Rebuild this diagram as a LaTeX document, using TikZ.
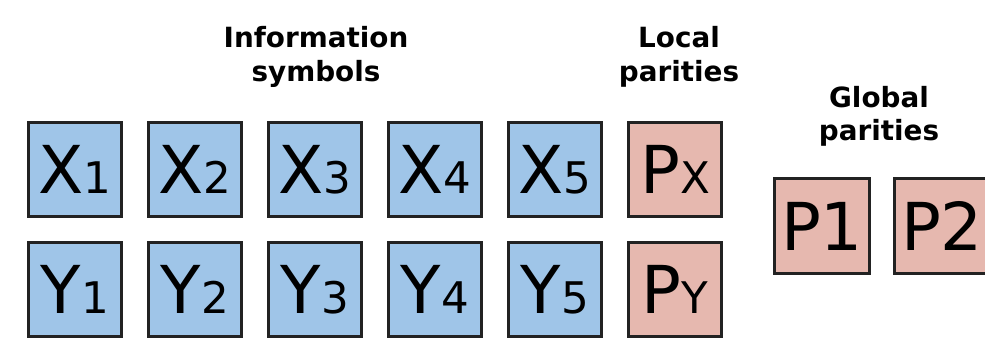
\documentclass[tikz,border=0pt]{standalone}
\usepackage{fontspec}
\setmainfont{DejaVu Sans}
\usepackage{tikz}
\usepackage{xcolor}
\definecolor{infoblue}{HTML}{9FC5E8}
\definecolor{paritypink}{HTML}{E6B8AF}
\definecolor{boxline}{HTML}{222222}
\newcommand{\bigsym}{\fontsize{47}{56}\selectfont}
\newcommand{\smallsym}{\fontsize{31}{38}\selectfont}
\tikzset{
  symbox/.style={draw=boxline, line width=2.2pt, minimum size=2.33cm, inner sep=0pt},
  infobox/.style={symbox, fill=infoblue},
  paritybox/.style={symbox, fill=paritypink},
  heading/.style={font=\fontsize{19.8}{24}\selectfont\bfseries, align=center}
}

\begin{document}
\begin{tikzpicture}
\useasboundingbox (0,0) rectangle (24.625,8.725);
% information symbols
\foreach \i in {1,...,5} {
  \node[infobox] (x\i) at ({1.875+3*(\i-1)},4.4875) {\bigsym X{\smallsym\i}};
  \node[infobox] (y\i) at ({1.875+3*(\i-1)},1.4875) {\bigsym Y{\smallsym\i}};
}
% local parities
\node[paritybox] (px) at (16.875,4.4875) {\bigsym P{\smallsym X}};
\node[paritybox] (py) at (16.875,1.4875) {\bigsym P{\smallsym Y}};
% global parities
\node[paritybox, minimum size=2.38cm] (p1) at (20.55,3.075) {\bigsym P1};
\node[paritybox, minimum size=2.38cm] (p2) at (23.55,3.075) {\bigsym P2};
% headings
\node[heading] (infolabel) at (7.9,7.31) {Information\\symbols};
\node[heading] (locallabel) at (16.975,7.31) {Local\\parities};
\node[heading] (globallabel) at (21.975,5.82) {Global\\parities};
\end{tikzpicture}
\end{document}
